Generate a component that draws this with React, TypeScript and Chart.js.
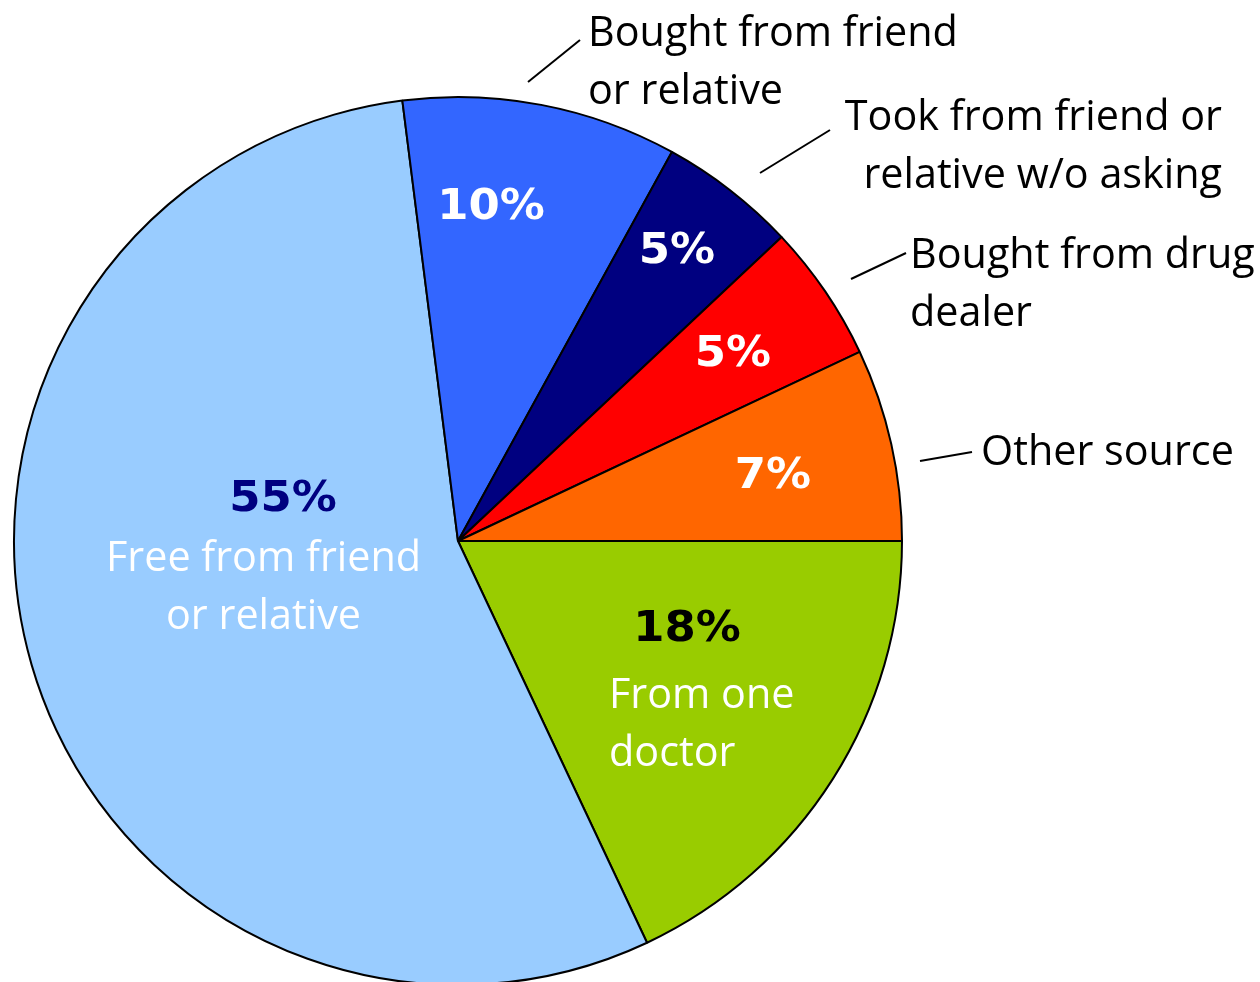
import React, { useEffect, useRef } from "react";
import { Chart, registerables } from "chart.js";

Chart.register(...registerables);

// ---- data ----
const categories = [
  "From one doctor",
  "Free from friend or relative",
  "Bought from friend or relative",
  "Took from friend or relative w/o asking",
  "Bought from drug dealer",
  "Other source",
];
const values = [18, 55, 10, 5, 5, 7];
const sliceColors = ["#99CC00", "#99CCFF", "#3366FF", "#000080", "#FF0000", "#FF6600"];
const percentLabels = ["18%", "55%", "10%", "5%", "5%", "7%"];
const percentColors = ["#000000", "#000080", "#FFFFFF", "#FFFFFF", "#FFFFFF", "#FFFFFF"];

// label text lines (inside or outside of slice)
const labelLines = [
  ["From one", "doctor"],
  ["Free from friend", "or relative"],
  ["Bought from friend", "or relative"],
  ["Took from friend or", "relative w/o asking"],
  ["Bought from drug", "dealer"],
  ["Other source"],
];

// ---- layout (offsets from pie centre, in px at reference radius) ----
const REF_R = 444;
const percentPos = [
  [229, 100],
  [-175, -30],
  [33, -322],
  [219, -278],
  [275, -175],
  [315, -53],
];
const labelPos: { x: number; y: number; align: CanvasTextAlign; color: string }[] = [
  { x: 151, y: 167, align: "left", color: "#FFFFFF" },
  { x: -194.5, y: 30, align: "center", color: "#FFFFFF" },
  { x: 130, y: -495, align: "left", color: "#000000" },
  { x: 764, y: -411, align: "right", color: "#000000" },
  { x: 452, y: -273, align: "left", color: "#000000" },
  { x: 523, y: -76, align: "left", color: "#000000" },
];
const leaderLines: (number[] | null)[] = [
  null,
  null,
  [70, -459, 122, -501],
  [302, -368, 372, -411],
  [393, -262, 448, -288],
  [462, -80, 514, -89],
];
const LINE_GAP = 57.5;
const TEXT_FONT = "'Open Sans', 'Noto Sans', sans-serif";
const PCT_FONT = "'DejaVu Sans', Verdana, sans-serif";
const PCT_STRETCH = 1.07;

const labelPlugin = {
  id: "sliceLabels",
  afterDatasetsDraw(chart: any) {
    const meta = chart.getDatasetMeta(0);
    const arc = meta.data[0];
    if (!arc) return;
    const { x: cx, y: cy, outerRadius } = arc.getProps(["x", "y", "outerRadius"], true);
    const s = outerRadius / REF_R;
    const ctx: CanvasRenderingContext2D = chart.ctx;
    ctx.save();

    // fit descriptive font size to target width of reference string
    ctx.font = `100px ${TEXT_FONT}`;
    const w100 = ctx.measureText("Bought from friend").width;
    const textSize = (370 * s * 100) / w100;

    // leader lines
    ctx.strokeStyle = "#000";
    ctx.lineWidth = 2;
    leaderLines.forEach((l) => {
      if (!l) return;
      ctx.beginPath();
      ctx.moveTo(cx + l[0] * s, cy + l[1] * s);
      ctx.lineTo(cx + l[2] * s, cy + l[3] * s);
      ctx.stroke();
    });

    // percentages
    ctx.font = `bold ${42 * s}px ${PCT_FONT}`;
    ctx.textAlign = "center";
    ctx.textBaseline = "alphabetic";
    percentLabels.forEach((t, i) => {
      ctx.save();
      ctx.translate(cx + percentPos[i][0] * s, cy + percentPos[i][1] * s);
      ctx.scale(PCT_STRETCH, 1);
      ctx.fillStyle = percentColors[i];
      ctx.fillText(t, 0, 0);
      ctx.restore();
    });

    // descriptive labels
    ctx.font = `${textSize}px ${TEXT_FONT}`;
    labelLines.forEach((lines, i) => {
      const p = labelPos[i];
      ctx.fillStyle = p.color;
      ctx.textAlign = p.align;
      lines.forEach((line, j) => {
        ctx.fillText(line, cx + p.x * s, cy + (p.y + j * LINE_GAP) * s);
      });
    });
    ctx.restore();
  },
};

export default function App() {
  const ref = useRef<HTMLCanvasElement>(null);
  useEffect(() => {
    document.body.style.margin = "0";
    if (!ref.current) return;
    const chart = new Chart(ref.current, {
      type: "pie",
      data: {
        labels: categories,
        datasets: [
          {
            data: values,
            backgroundColor: sliceColors,
            borderColor: "#000000",
            borderWidth: 2,
          },
        ],
      },
      options: {
        responsive: false,
        animation: false,
        devicePixelRatio: 1,
        rotation: 90,
        layout: { padding: { left: 13, top: 96, right: 357, bottom: 4 } },
        plugins: {
          legend: { display: false },
          tooltip: { enabled: false },
        },
      },
      plugins: [labelPlugin],
    });
    return () => chart.destroy();
  }, []);
  return (
    <div style={{ width: 1260, height: 982, overflow: "hidden", background: "#fff", position: "relative" }}>
      <canvas ref={ref} width={1260} height={990} style={{ display: "block" }} />
    </div>
  );
}
